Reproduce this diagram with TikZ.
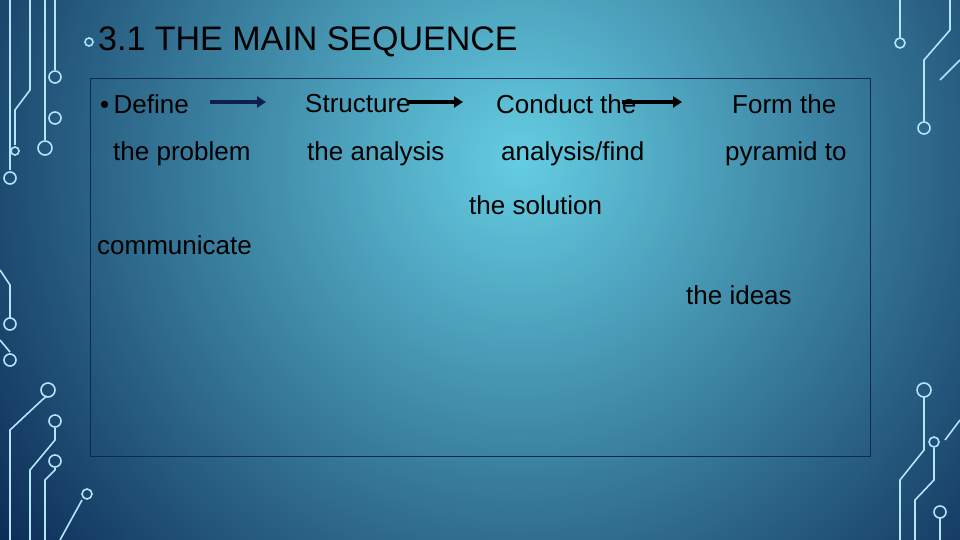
\documentclass[tikz,border=0pt]{standalone}
\usepackage{fontspec}
\setmainfont{Liberation Sans}
\usetikzlibrary{arrows.meta}
\begin{document}
\begin{tikzpicture}[x=1pt,y=-1pt,
  txt/.style={anchor=west,inner sep=0,text=black,font=\fontsize{26}{30}\selectfont},
  circ/.style={draw=cyan!30!white,line width=1.6pt},
  arr/.style={-{Triangle[length=9pt,width=11pt]},line width=3.5pt}]
\useasboundingbox (0,0) rectangle (960,540);
\fill[color={rgb,255:red,8;green,35;blue,80}] (0,0) rectangle (960,540);
\begin{scope}
\clip (0,0) rectangle (960,540);
\shade[inner color={rgb,255:red,100;green,205;blue,225},outer color={rgb,255:red,8;green,35;blue,80}] (520,160) circle (680);
\end{scope}
\begin{scope}[circ]
\draw (55,0) -- (55,70); \draw (55,77) circle (6);
\draw (30,0) -- (30,90) -- (15,110) -- (15,145); \draw (15,151) circle (4);
\draw (45,0)--(45,140); \draw (45,148) circle (7);
\draw (10,0)--(10,170); \draw (10,178) circle (6);
\draw (55,118) circle (6);
\draw (0,270) -- (10,285) -- (10,318); \draw (10,324) circle (6);
\draw (0,340)--(10,352); \draw (10,360) circle (6);
\draw (10,540)--(10,430)--(42,400)--(47,396); \draw (48,390) circle (7);
\draw (30,540)--(30,470)--(55,440)--(55,428); \draw (55,421) circle (6);
\draw (45,540)--(45,480)--(55,470)--(55,468); \draw (55,461) circle (6);
\draw (60,540)--(82,500); \draw (87,494) circle (5);
\draw (900,0)--(900,37); \draw (900,43) circle (5);
\draw (950,0)--(950,30)--(924,60)--(924,121); \draw (924,128) circle (6);
\draw (960,60)--(940,80);
\draw (900,540)--(900,480)--(924,450)--(924,396); \draw (924,390) circle (7);
\draw (915,540)--(915,500)--(934,480)--(934,448); \draw (934,442) circle (5);
\draw (940,540)--(940,518); \draw (940,512) circle (6);
\draw (960,420)--(945,440);
\draw (89,42) circle (4);
\end{scope}
\draw[color={rgb,255:red,10;green,40;blue,90},line width=0.8pt] (90,78) rectangle (870,456);
\node[anchor=west,inner sep=0,font=\fontsize{34}{40}\selectfont,text=black] (title) at (98,42) {3.1 THE MAIN SEQUENCE};
\node[txt] (d1) at (100,104) {\textbullet\,Define};
\node[txt] (d2) at (113,154) {the problem};
\node[txt] (s1) at (305,104) {Structure};
\node[txt] (s2) at (307,154) {the analysis};
\node[txt] (c1) at (496,104) {Conduct the};
\node[txt] (c2) at (501,154) {analysis/find};
\node[txt] (f1) at (732,104) {Form the};
\node[txt] (f2) at (725,154) {pyramid to};
\node[txt] (sol) at (469,205) {the solution};
\node[txt] (com) at (97,245) {communicate};
\node[txt] (ide) at (686,295) {the ideas};
\coordinate (a1) at (210,102); \coordinate (b1) at (266,102);
\coordinate (a2) at (408,102); \coordinate (b2) at (463,102);
\coordinate (a3) at (622,102); \coordinate (b3) at (682,102);
\draw[arr,color={rgb,255:red,15;green,30;blue,80}] (a1) -- (b1);
\draw[arr,black] (a2) -- (b2);
\draw[arr,black] (a3) -- (b3);
\end{tikzpicture}
\end{document}
